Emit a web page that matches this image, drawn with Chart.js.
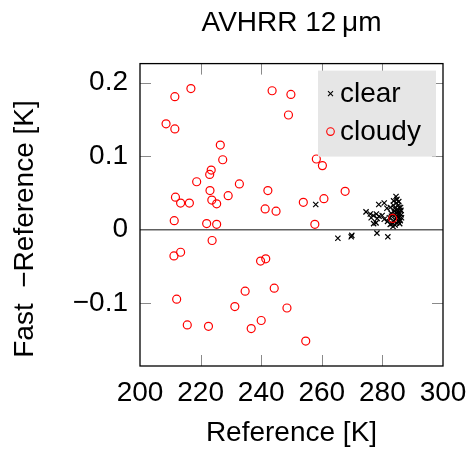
<!DOCTYPE html>
<html>
<head>
<meta charset="utf-8">
<script src="https://cdn.jsdelivr.net/npm/chart.js@4/dist/chart.umd.min.js"></script>
<style>
  html, body { margin: 0; padding: 0; background: #fff; }
  #c { display: block; }
</style>
</head>
<body>
<canvas id="c" width="466" height="450"></canvas>
<script>
// Data
const clearX = [258.0, 265.3, 269.7, 269.9, 278.2, 281.8, 277.1, 284.5, 283.7, 278.8,
  280.6, 281.5, 274.6, 276.0, 277.0, 278.0, 278.9, 279.9, 276.3, 278.3,
  280.6, 277.9, 282.6, 283.6, 284.6, 284.9, 283.9, 285.2, 282.9, 282.3,
  284.6, 285.2, 283.2, 284.2, 282.6, 284.9, 283.6, 285.5, 281.7, 285.0,
  284.3, 285.6, 284.0, 285.3, 283.0, 284.7, 285.8, 283.5, 286.0, 286.2,
  285.9, 286.1, 285.7, 284.8, 285.4, 286.3];
const clearY = [0.034, -0.012, -0.010, -0.008, -0.005, -0.010, 0.008, 0.045, 0.039, 0.034,
  0.036, 0.029, 0.024, 0.021, 0.019, 0.021, 0.018, 0.019, 0.016, 0.015,
  0.014, 0.009, 0.030, 0.033, 0.036, 0.027, 0.025, 0.021, 0.022, 0.016,
  0.015, 0.011, 0.008, 0.006, 0.007, 0.018, 0.012, 0.030, 0.011, 0.024,
  0.020, 0.016, 0.029, 0.033, 0.018, 0.009, 0.022, 0.004, 0.030, 0.020,
  0.012, 0.026, 0.008, 0.041, 0.038, 0.016];

const cloudyX = [211.5, 216.8, 208.6, 211.5, 211.7, 213.4, 216.3, 211.3, 243.6, 249.8,
  249.0, 226.5, 227.3, 258.2, 260.2, 223.5, 223.0, 218.7, 232.8, 223.1,
  242.2, 267.7, 229.1, 223.7, 225.3, 241.3, 244.9, 253.9, 260.7, 222.0,
  225.3, 257.7, 283.4, 223.8, 211.2, 213.4, 239.8, 241.5, 234.7, 244.3,
  212.1, 231.3, 248.5, 215.6, 222.6, 240.0, 236.7, 254.7];
const cloudyY = [0.181, 0.192, 0.144, 0.137, 0.044, 0.036, 0.036, 0.012, 0.189, 0.184,
  0.156, 0.115, 0.095, 0.096, 0.087, 0.081, 0.075, 0.065, 0.062, 0.053,
  0.053, 0.052, 0.046, 0.040, 0.035, 0.028, 0.025, 0.037, 0.042, 0.008,
  0.007, 0.007, 0.015, -0.015, -0.036, -0.031, -0.043, -0.040, -0.084, -0.080,
  -0.095, -0.105, -0.107, -0.130, -0.132, -0.124, -0.135, -0.152];

const xTicks = [200, 220, 240, 260, 280, 300];
const yTicks = [-0.1, 0, 0.1, 0.2];
const seriesNames = ["clear", "cloudy"];

const FONT = "'Liberation Sans', Arial, sans-serif";

function toPoints(xs, ys) {
  return xs.map((x, i) => ({ x: x, y: ys[i] }));
}

function fmtY(v) {
  if (Math.abs(v) < 1e-9) return "0";
  return v.toFixed(1).replace("-", "\u2212");
}

// inner tick marks + frame, pgfplots style
const framePlugin = {
  id: "frame",
  afterDatasetsDraw(chart) {
    const { ctx, chartArea: a, scales } = chart;
    const len = 11;
    ctx.save();
    ctx.strokeStyle = "#8a8a8a";
    ctx.lineWidth = 1;
    ctx.beginPath();
    scales.x.ticks.forEach(t => {
      const px = Math.round(scales.x.getPixelForValue(t.value)) + 0.5;
      if (px <= a.left + 1 || px >= a.right - 1) return;
      ctx.moveTo(px, a.bottom); ctx.lineTo(px, a.bottom - len);
      ctx.moveTo(px, a.top); ctx.lineTo(px, a.top + len);
    });
    scales.y.ticks.forEach(t => {
      const py = Math.round(scales.y.getPixelForValue(t.value)) + 0.5;
      if (t.value === 0) return;
      ctx.moveTo(a.left, py); ctx.lineTo(a.left + len, py);
      ctx.moveTo(a.right, py); ctx.lineTo(a.right - len, py);
    });
    ctx.stroke();
    ctx.strokeStyle = "#000";
    ctx.lineWidth = 1.3;
    ctx.strokeRect(a.left, a.top, a.right - a.left, a.bottom - a.top);
    ctx.restore();
  }
};

// legend box in the upper right corner of the axes
const legendPlugin = {
  id: "boxLegend",
  afterDraw(chart) {
    const { ctx, chartArea: a } = chart;
    const w = 118, h = 86;
    const x0 = a.right - 7 - w, y0 = a.top + 7;
    ctx.save();
    ctx.fillStyle = "#e6e6e6";
    ctx.fillRect(x0, y0, w, h);
    ctx.font = "28px " + FONT;
    ctx.textBaseline = "middle";
    ctx.fillStyle = "#000";
    const rows = [y0 + 23, y0 + 61];
    // clear: x marker
    ctx.strokeStyle = "#000";
    ctx.lineWidth = 1.1;
    ctx.beginPath();
    ctx.moveTo(x0 + 10, rows[0] - 2.5); ctx.lineTo(x0 + 15, rows[0] + 2.5);
    ctx.moveTo(x0 + 10, rows[0] + 2.5); ctx.lineTo(x0 + 15, rows[0] - 2.5);
    ctx.stroke();
    // cloudy: circle marker
    ctx.strokeStyle = "#ff0000";
    ctx.beginPath();
    ctx.arc(x0 + 12.5, rows[1], 3.8, 0, Math.PI * 2);
    ctx.stroke();
    ctx.fillText(seriesNames[0], x0 + 22, rows[0] + 1);
    ctx.fillText(seriesNames[1], x0 + 22, rows[1] + 1);
    ctx.restore();
  }
};

// rotated y label
const yLabelPlugin = {
  id: "yLabel",
  afterDraw(chart) {
    const { ctx } = chart;
    ctx.save();
    ctx.translate(25, 229);
    ctx.rotate(-Math.PI / 2);
    ctx.font = "28px " + FONT;
    ctx.textAlign = "center";
    ctx.textBaseline = "middle";
    ctx.fillStyle = "#000";
    ctx.fillText("Fast  \u2212Reference [K]", 0, 0);
    ctx.restore();
  }
};

const chart = new Chart(document.getElementById("c"), {
  type: "scatter",
  data: {
    datasets: [
      {
        label: seriesNames[0],
        data: toPoints(clearX, clearY),
        pointStyle: "crossRot",
        pointRadius: 3.7,
        borderColor: "#000",
        backgroundColor: "#000",
        borderWidth: 1.2,
        order: 2
      },
      {
        label: seriesNames[1],
        data: toPoints(cloudyX, cloudyY),
        pointStyle: "circle",
        pointRadius: 4,
        borderColor: "#ff0000",
        backgroundColor: "rgba(0,0,0,0)",
        borderWidth: 1.2,
        order: 1
      }
    ]
  },
  options: {
    responsive: false,
    animation: false,
    devicePixelRatio: 1,
    layout: { padding: { top: 0, right: 23, left: 0, bottom: 0 } },
    plugins: {
      legend: { display: false },
      tooltip: { enabled: false },
      title: {
        display: true,
        fullSize: false,
        text: "AVHRR 12\u2009\u03bcm",
        color: "#000",
        font: { family: FONT, size: 28, weight: "normal", lineHeight: 1.2 },
        padding: { top: 6, bottom: 24 }
      }
    },
    scales: {
      x: {
        type: "linear",
        min: 200,
        max: 300,
        afterBuildTicks: s => { s.ticks = xTicks.map(v => ({ value: v })); },
        afterFit: s => { s.height = 84; s.paddingLeft = 0; s.paddingRight = 0; },
        grid: { display: false, drawTicks: false },
        border: { display: false },
        ticks: {
          color: "#000",
          padding: 10,
          maxRotation: 0,
          font: { family: FONT, size: 28 }
        },
        title: {
          display: true,
          text: "Reference [K]",
          color: "#000",
          padding: 0,
          font: { family: FONT, size: 28 }
        }
      },
      y: {
        type: "linear",
        min: -0.186,
        max: 0.226,
        afterBuildTicks: s => { s.ticks = yTicks.map(v => ({ value: v })); },
        afterFit: s => { s.width = 140; s.paddingTop = 0; s.paddingBottom = 0; },
        grid: {
          drawTicks: false,
          color: ctx => (ctx.tick && Math.abs(ctx.tick.value) < 1e-9) ? "#606060" : "rgba(0,0,0,0)",
          lineWidth: 1.5
        },
        border: { display: false },
        ticks: {
          color: "#000",
          padding: 12,
          font: { family: FONT, size: 28 },
          callback: v => fmtY(v)
        }
      }
    }
  },
  plugins: [framePlugin, legendPlugin, yLabelPlugin]
});
</script>
</body>
</html>
